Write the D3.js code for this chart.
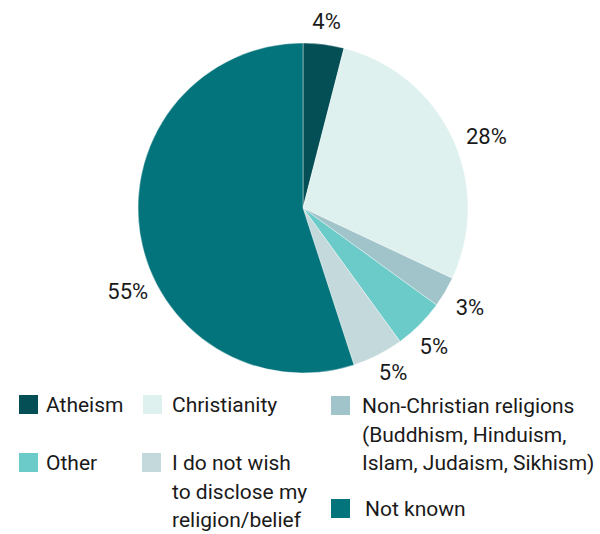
<!DOCTYPE html>
<html>
<head>
<meta charset="utf-8">
<script src="https://cdn.jsdelivr.net/npm/d3@7"></script>
<style>
  html, body { margin: 0; padding: 0; background: #ffffff; }
  svg { display: block; }
  text { font-family: Roboto, "Noto Sans", sans-serif; fill: #1a1a1a; }
</style>
</head>
<body>
<svg id="chart" width="600" height="534"></svg>
<script>
// Religion / belief breakdown (percent of total)
const categories = [
  "Atheism",
  "Christianity",
  "Non-Christian religions (Buddhism, Hinduism, Islam, Judaism, Sikhism)",
  "Other",
  "I do not wish to disclose my religion/belief",
  "Not known"
];
const shares = [4, 28, 3, 5, 5, 55];
const shareLabels = ["4%", "28%", "3%", "5%", "5%", "55%"];
const legendLines = [
  ["Atheism"],
  ["Christianity"],
  ["Non-Christian religions", "(Buddhism, Hinduism,", "Islam, Judaism, Sikhism)"],
  ["Other"],
  ["I do not wish", "to disclose my", "religion/belief"],
  ["Not known"]
];
const colours = ["#044f55", "#dff1ef", "#a0c4c9", "#6bcbc8", "#c4d9dc", "#03747b"];

const svg = d3.select("#chart");
const cx = 303, cy = 208, radius = 165;

const pie = d3.pie().sort(null).value(d => d.value);
const arcs = pie(categories.map((c, i) => ({ name: c, value: shares[i], i })));
const arc = d3.arc().innerRadius(0).outerRadius(radius);

const g = svg.append("g").attr("transform", `translate(${cx},${cy})`);

g.selectAll("path.slice")
  .data(arcs)
  .join("path")
  .attr("class", "slice")
  .attr("d", arc)
  .attr("fill", d => colours[d.data.i])
  .attr("stroke", "#ffffff")
  .attr("stroke-width", 0.4);

// Percentage labels outside the pie; small per-label nudges keep them clear of neighbours
const labelNudge = [
  { da: 0, r: 188 },
  { da: 3.8, r: 197 },
  { da: 0, r: 194 },
  { da: 1.5, r: 190 },
  { da: -1.8, r: 187 },
  { da: -16.4, r: 194 }
];
g.selectAll("text.pct")
  .data(arcs)
  .join("text")
  .attr("class", "pct")
  .attr("text-anchor", "middle")
  .attr("font-size", 22)
  .attr("dy", "0.36em")
  .attr("x", d => {
    const n = labelNudge[d.data.i];
    const a = (d.startAngle + d.endAngle) / 2 + n.da * Math.PI / 180;
    return n.r * Math.sin(a);
  })
  .attr("y", d => {
    const n = labelNudge[d.data.i];
    const a = (d.startAngle + d.endAngle) / 2 + n.da * Math.PI / 180;
    return -n.r * Math.cos(a);
  })
  .text(d => shareLabels[d.data.i]);

// Legend: three columns, swatch then wrapped label
const legendPos = [
  { x: 19, y: 395, tx: 46 },
  { x: 143, y: 395, tx: 172 },
  { x: 331, y: 396, tx: 362 },
  { x: 19, y: 453, tx: 46 },
  { x: 142, y: 453, tx: 172 },
  { x: 331, y: 499, tx: 365 }
];
const swatch = 19, lineH = 28.5;

const lg = svg.append("g").attr("class", "legend");
const items = lg.selectAll("g.item")
  .data(categories.map((c, i) => i))
  .join("g")
  .attr("class", "item");

items.append("rect")
  .attr("x", i => legendPos[i].x)
  .attr("y", i => legendPos[i].y)
  .attr("width", swatch)
  .attr("height", swatch)
  .attr("fill", i => colours[i]);

items.each(function (i) {
  const t = d3.select(this).append("text")
    .attr("font-size", 21)
    .attr("x", legendPos[i].tx)
    .attr("y", legendPos[i].y + 17);
  legendLines[i].forEach((line, k) => {
    t.append("tspan")
      .attr("x", legendPos[i].tx)
      .attr("dy", k === 0 ? 0 : lineH)
      .text(line);
  });
});
</script>
</body>
</html>
